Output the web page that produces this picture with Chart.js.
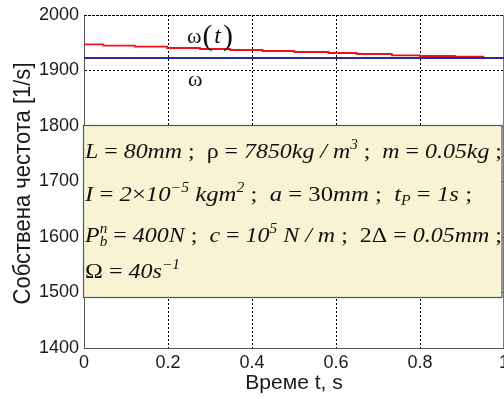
<!DOCTYPE html>
<html>
<head>
<meta charset="utf-8">
<script src="https://cdn.jsdelivr.net/npm/chart.js@4.4.1/dist/chart.umd.min.js"></script>
<style>
html,body{margin:0;padding:0;background:#fff;}
#wrap{width:504px;height:399px;position:relative;}
</style>
</head>
<body>
<div id="wrap"><canvas id="c" width="504" height="399"></canvas></div>
<script>
// ---- data ----
const redTimes  = [0, 0.046, 0.121, 0.198, 0.276, 0.348, 0.425, 0.501, 0.582, 0.649, 0.733, 0.800, 0.883, 0.953];
const redValues = [1947.2, 1944.7, 1942.9, 1940.5, 1938.7, 1936.9, 1935.1, 1933.3, 1931.5, 1929.7, 1927.3, 1926.1, 1924.9, 1924.9];
const blueTimes  = [0, 1];
const blueValues = [1922.5, 1922.5];
const xTicks = [0, 0.2, 0.4, 0.6, 0.8, 1];
const yTicks = [1400, 1500, 1600, 1700, 1800, 1900, 2000];
const xTitle = 'Време t, s';
const yTitle = 'Собствена честота [1/s]';
const curveLabel = 'ω(t)';
const constLabel = 'ω';
const paramLines = [
  [['L','i'],[' = ','r'],['80mm','i'],[' ;  ','r'],['ρ','r'],[' = ','r'],['7850kg / m','i'],['3','sup'],[' ;  ','r'],['m','i'],[' = ','r'],['0.05kg','i'],[' ;','r']],
  [['I','i'],[' = ','r'],['2','i'],['×','r'],['10','i'],['−5','sup'],[' kgm','i'],['2','sup'],[' ;  ','r'],['a','i'],[' = ','r'],['30','r'],['mm','i'],[' ;  ','r'],['t','i'],['P','sub'],[' = ','r'],['1s','i'],[' ;','r']],
  [['P','i'],['b','subsup','n'],[' = ','r'],['400N','i'],[' ;  ','r'],['c','i'],[' = ','r'],['10','i'],['5','sup'],[' N / m','i'],[' ;  ','r'],['2Δ','r'],[' = ','r'],['0.05mm','i'],[' ;','r']],
  [['Ω','r'],[' = ','r'],['40s','i'],['−1','sup']]
];
const lineTargets = [[85, 502], [85, 472], [85, 502], [85, 180]];

const FS = '"Liberation Serif", "Times New Roman", serif';
const FA = '"Liberation Sans", Arial, sans-serif';

function runW(ctx, seg, size){
  const [t, st, extra] = seg;
  if (st === 'sup' || st === 'sub') { ctx.font = 'italic ' + Math.round(size*0.62) + 'px ' + FS; return ctx.measureText(t).width; }
  if (st === 'subsup') { ctx.font = 'italic ' + Math.round(size*0.62) + 'px ' + FS; return Math.max(ctx.measureText(t).width, ctx.measureText(extra).width); }
  ctx.font = (st === 'i' ? 'italic ' : '') + size + 'px ' + FS;
  return ctx.measureText(t).width;
}
function drawRich(ctx, segs, x0, x1, base, size){
  let total = 0;
  segs.forEach(s => total += runW(ctx, s, size));
  const sx = (x1 - x0) / total;
  ctx.save();
  ctx.translate(x0, base);
  ctx.scale(sx, 1);
  let x = 0;
  ctx.fillStyle = '#111';
  ctx.textBaseline = 'alphabetic';
  ctx.textAlign = 'left';
  segs.forEach(s => {
    const w = runW(ctx, s, size);
    const [t, st, extra] = s;
    if (st === 'sup') ctx.fillText(t, x, -size*0.42);
    else if (st === 'sub') ctx.fillText(t, x, size*0.2);
    else if (st === 'subsup') { ctx.fillText(t, x, size*0.2); ctx.fillText(extra, x, -size*0.42); }
    else ctx.fillText(t, x, 0);
    x += w;
  });
  ctx.restore();
}

const overlay = {
  id: 'overlay',
  beforeDatasetsDraw(chart){
    const {ctx, chartArea: a} = chart;
    ctx.save();
    ctx.strokeStyle = '#7a7a7a';
    ctx.lineWidth = 1;
    ctx.beginPath();
    ctx.moveTo(a.right - 0.5, a.top); ctx.lineTo(a.right - 0.5, a.bottom);
    ctx.stroke();
    ctx.strokeStyle = '#000';
    ctx.setLineDash([2, 2]);
    ctx.beginPath(); ctx.moveTo(a.left, a.top + 0.5); ctx.lineTo(a.right, a.top + 0.5); ctx.stroke();
    ctx.restore();
  },
  afterDatasetsDraw(chart){
    const {ctx, chartArea: a, scales: {x, y}} = chart;
    ctx.save();
    // parameter box
    const top = Math.round(y.getPixelForValue(1801)) + 0.5;
    const bot = Math.round(y.getPixelForValue(1491)) + 0.5;
    ctx.fillStyle = '#f7f3d3';
    ctx.fillRect(a.left, top, a.right - a.left - 2, bot - top);
    ctx.strokeStyle = '#555';
    ctx.lineWidth = 1.2;
    ctx.strokeRect(a.left - 0.5, top, a.right - a.left - 1.5, bot - top);
    const bases = [158, 201, 242, 278];
    paramLines.forEach((segs, i) => drawRich(ctx, segs, lineTargets[i][0], lineTargets[i][1], bases[i], 22));
    // curve labels
    ctx.fillStyle = '#111';
    ctx.textBaseline = 'alphabetic';
    ctx.textAlign = 'left';
    const lx = x.getPixelForValue(0.245);
    ctx.font = '22px ' + FS;
    ctx.fillText(curveLabel[0], lx, 43);
    const ow = ctx.measureText(curveLabel[0]).width;
    ctx.font = '30px ' + FS;
    ctx.fillText('(', lx + ow + 1, 45);
    const pw = ctx.measureText('(').width;
    ctx.font = 'italic 24px ' + FS;
    ctx.fillText('t', lx + ow + pw + 3, 43);
    const tw = ctx.measureText('t').width;
    ctx.font = '30px ' + FS;
    ctx.fillText(')', lx + ow + pw + tw + 5, 45);
    ctx.font = '22px ' + FS;
    ctx.fillText(constLabel, lx + 1, 86);
    // y axis title (rotated, condensed like the reference)
    ctx.font = '24px ' + FA;
    const yw = ctx.measureText(yTitle).width;
    ctx.translate(23, (a.top + a.bottom) / 2 + 2);
    ctx.rotate(-Math.PI / 2);
    ctx.scale(242 / yw, 1);
    ctx.textAlign = 'center';
    ctx.textBaseline = 'middle';
    ctx.fillStyle = '#1a1a1a';
    ctx.fillText(yTitle, 0, 0);
    ctx.restore();
  }
};

new Chart(document.getElementById('c'), {
  type: 'line',
  plugins: [overlay],
  data: {
    datasets: [
      { data: blueTimes.map((t, i) => ({x: t, y: blueValues[i]})), borderColor: '#2a2a9a', borderWidth: 2, pointRadius: 0, fill: false },
      { data: redTimes.map((t, i) => ({x: t, y: redValues[i]})), borderColor: '#e8141c', borderWidth: 1.8, pointRadius: 0, fill: false, stepped: 'before' }
    ]
  },
  options: {
    responsive: false,
    animation: false,
    layout: { padding: { top: 15, right: 0, left: 0, bottom: 0 } },
    plugins: { legend: { display: false }, tooltip: { enabled: false } },
    scales: {
      x: {
        type: 'linear', min: 0, max: 1,
        afterBuildTicks: s => { s.ticks = xTicks.map(v => ({value: v})); },
        ticks: { color: '#1a1a1a', font: { family: FA, size: 18 }, padding: 4, maxRotation: 0, autoSkip: false, callback: v => String(v) },
        grid: { color: '#000', lineWidth: 1, drawTicks: false },
        border: { display: true, color: '#555', width: 1, dash: [2,2] },
        title: { display: true, text: xTitle, color: '#1a1a1a', font: { family: FA, size: 21 }, padding: { top: 0, bottom: 3 } },
        afterFit: s => { s.height = 51; s.paddingLeft = 0; s.paddingRight = 0; }
      },
      y: {
        type: 'linear', min: 1400, max: 2000,
        afterBuildTicks: s => { s.ticks = yTicks.map(v => ({value: v})); },
        ticks: { color: '#1a1a1a', font: { family: FA, size: 18 }, padding: 5, autoSkip: false, callback: v => String(v) },
        grid: { color: '#000', lineWidth: 1, drawTicks: false },
        border: { display: true, color: '#555', width: 1, dash: [2,2] },
        title: { display: false },
        afterFit: s => { s.width = 84; s.paddingTop = 0; s.paddingBottom = 0; }
      }
    }
  }
});
</script>
</body>
</html>
